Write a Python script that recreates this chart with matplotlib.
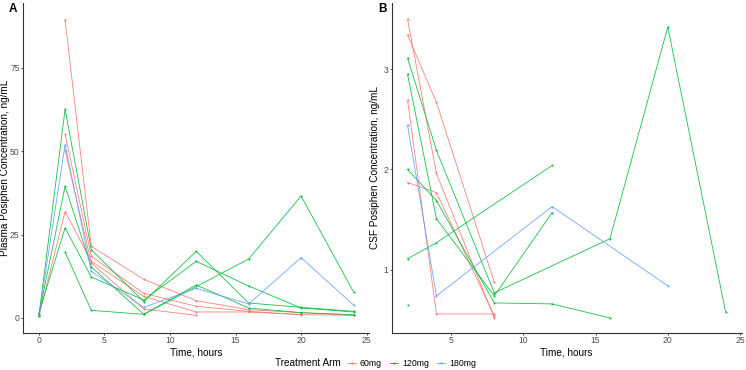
"""Posiphen PK: plasma (A) and CSF (B) concentration vs time by treatment arm."""
import numpy as np
import matplotlib
matplotlib.use("Agg")
import matplotlib.pyplot as plt
from matplotlib.lines import Line2D

plt.rcParams['font.family'] = ['Liberation Sans', 'DejaVu Sans']

ARMS = ["60mg", "120mg", "180mg"]
COLORS = {"60mg": "#F8766D", "120mg": "#00BA38", "180mg": "#619CFF"}

# panel A - plasma, one entry per subject: (arm, times, conc)
plasma_arm = ["60mg", "60mg", "60mg", "60mg",
              "120mg", "120mg", "120mg", "120mg", "180mg"]
plasma_t = [[2, 4, 8, 12, 16, 20, 24],
            [2, 4, 8, 12, 16, 20, 24],
            [0, 2, 4, 8, 12, 16, 20],
            [2, 4, 8, 12],
            [0, 2, 4, 8, 12, 16, 20, 24],
            [0, 2, 4, 8, 16, 20, 24],
            [0, 2, 4, 8, 12, 16, 20, 24],
            [2, 4, 8, 12, 16, 20, 24],
            [0, 2, 4, 8, 12, 16, 20, 24]]
plasma_c = [[89.5, 21.5, 11.6, 5.2, 2.5, 1.6, 0.8],
            [55.1, 18.5, 7.4, 3.5, 2.0, 1.0, 0.8],
            [0.5, 31.9, 17.0, 6.5, 1.8, 1.8, 1.0],
            [50.4, 16.5, 2.7, 0.8],
            [0.5, 62.6, 20.5, 4.9, 20.0, 4.5, 3.2, 2.0],
            [1.0, 39.5, 15.3, 1.1, 17.7, 36.6, 7.8],
            [1.5, 27.0, 12.3, 5.4, 17.0, 9.6, 3.0, 1.8],
            [19.8, 2.3, 1.1, 9.9, 3.0, 1.6, 1.0],
            [0.5, 52.0, 14.0, 3.2, 8.9, 4.2, 18.1, 3.9]]

# panel B - CSF
csf_arm = ["60mg", "60mg", "60mg", "60mg",
           "120mg", "120mg", "120mg", "120mg", "120mg", "180mg"]
csf_t = [[2, 4, 8], [2, 4, 8], [2, 4, 8], [2, 4, 8],
         [2, 4, 8, 16, 20, 24], [2, 4, 8, 12], [2, 4, 8, 12, 16],
         [2, 4, 12], [2], [2, 4, 12, 20]]
csf_c = [[3.50, 1.96, 0.52], [3.34, 2.67, 0.875], [2.69, 0.56, 0.56], [1.87, 1.77, 0.54],
         [3.11, 2.19, 0.77, 1.31, 3.42, 0.58], [2.95, 1.51, 0.74, 1.57],
         [2.00, 1.69, 0.67, 0.66, 0.52], [1.11, 1.27, 2.04], [0.65],
         [2.44, 0.74, 1.63, 0.84]]

AX_COL = "#333333"; TICK_COL = "#4D4D4D"; LAB = 7.2

fig = plt.figure(figsize=(7.46, 3.70), dpi=100)
axA = fig.add_axes([0.031, 0.100, 0.464, 0.892])
axB = fig.add_axes([0.525, 0.100, 0.469, 0.892])

def draw(ax, arms, ts, cs):
    for arm, t, c in zip(arms, ts, cs):
        ax.plot(t, c, color=COLORS[arm], lw=0.6, marker="o", ms=1.5, mew=0, alpha=0.9)
    for s in ("top", "right"):
        ax.spines[s].set_visible(False)
    for s in ("left", "bottom"):
        ax.spines[s].set_color(AX_COL); ax.spines[s].set_linewidth(0.8)
    ax.tick_params(length=1.5, width=0.6, color=AX_COL, labelcolor=TICK_COL, labelsize=6.2, pad=1)

draw(axA, plasma_arm, plasma_t, plasma_c)
axA.set_xlim(-1.2, 25.2); axA.set_ylim(-4.5, 94.5)
axA.set_xticks([0, 5, 10, 15, 20, 25]); axA.set_yticks([0, 25, 50, 75])
axA.set_xlabel("Time, hours", fontsize=LAB, labelpad=1.5)
axA.set_ylabel("Plasma Posiphen Concentration, ng/mL", fontsize=LAB)
axA.yaxis.set_label_coords(-0.039, 0.5)

draw(axB, csf_arm, csf_t, csf_c)
axB.set_xlim(0.9, 25.1); axB.set_ylim(0.37, 3.66)
axB.set_xticks([5, 10, 15, 20, 25]); axB.set_yticks([1, 2, 3])
axB.set_xlabel("Time, hours", fontsize=LAB, labelpad=1.5)
axB.set_ylabel("CSF Posiphen Concentration, ng/mL", fontsize=LAB)
axB.yaxis.set_label_coords(-0.032, 0.5)

fig.text(0.012, 0.975, "A", fontsize=8.5, fontweight="bold", va="center")
fig.text(0.507, 0.975, "B", fontsize=8.5, fontweight="bold", va="center")

handles = [Line2D([], [], color=COLORS[a], lw=0.6, marker="o", ms=1.5, mew=0) for a in ARMS]
fig.text(0.368, 0.018, "Treatment Arm", fontsize=LAB, va="center")
fig.legend(handles, ARMS, loc="center left", bbox_to_anchor=(0.466, 0.018), ncol=3,
           frameon=False, fontsize=6.3, handlelength=0.9, handletextpad=0.5,
           columnspacing=0.9, borderpad=0, borderaxespad=0)

fig.savefig("out.png", dpi=100)
